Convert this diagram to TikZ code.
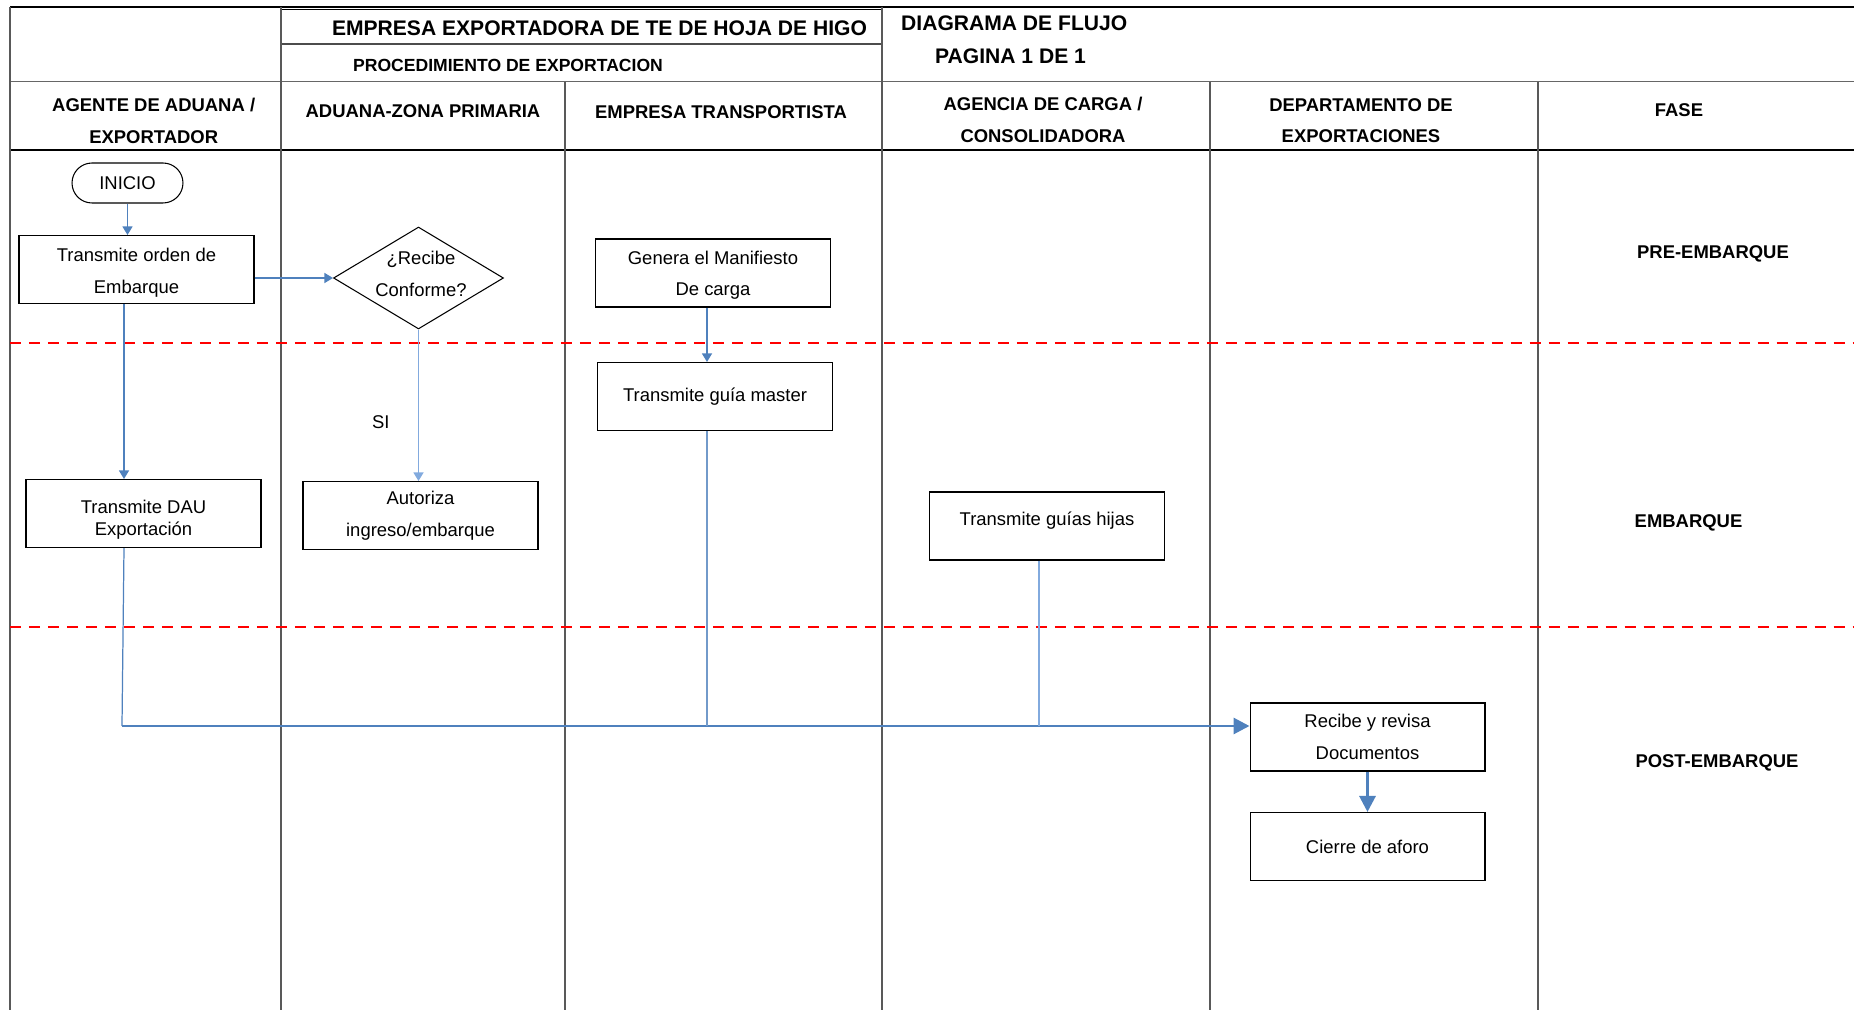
\documentclass[tikz,border=0pt]{standalone}
\usepackage{fontspec}
\setmainfont{Liberation Sans}
\usetikzlibrary{positioning,arrows.meta,shapes.geometric,calc}
\definecolor{azul}{RGB}{79,129,189}
\definecolor{azulclaro}{RGB}{130,170,222}
\tikzstyle{paso} = [draw,rectangle,line width=0.6pt,minimum width=4.7cm,minimum height=1.36cm,align=center,font=\fontsize{10.5}{18}\selectfont]
\tikzstyle{terminal} = [draw,rectangle,rounded corners=0.4cm,line width=0.6pt,minimum width=2.22cm,minimum height=0.8cm,font=\fontsize{10.5}{12}\selectfont]
\tikzstyle{decision} = [draw,diamond,line width=0.6pt,minimum width=3.4cm,minimum height=2.04cm,inner sep=0pt]
\tikzstyle{cabecera} = [font=\bfseries\fontsize{10.5}{18}\selectfont,align=center]
\tikzstyle{titulo} = [font=\bfseries\fontsize{12}{14}\selectfont]
\tikzstyle{flecha} = [azul,line width=0.7pt,-{Triangle[length=0.17cm,width=0.2cm]}]
\tikzstyle{flechagruesa} = [azul,line width=1.7pt,-{Triangle[length=0.32cm,width=0.32cm]}]
\tikzstyle{linea} = [azul,line width=0.7pt]
\tikzstyle{lineaclara} = [azulclaro,line width=0.6pt]
\tikzstyle{fase} = [red,line width=1.5pt,dash pattern=on 0.22cm off 0.16cm]

\begin{document}
\begin{tikzpicture}[x=0.02cm,y=-0.02cm]
\useasboundingbox (0,0) rectangle (1854,1010);

\draw[line width=0.6pt] (10,7) -- (1854,7);
\draw[line width=0.6pt] (281,9.5) -- (882,9.5);
\draw[gray!60!black,line width=0.6pt] (281,44) -- (882,44);
\draw[gray!80!black,line width=1pt] (10,81.6) -- (1854,81.6);
\draw[line width=0.6pt] (10,150) -- (1854,150);
\foreach \x in {10,281,882}
  \draw[gray!70!black,line width=0.6pt] (\x,7) -- (\x,1010);
\foreach \x in {565,1210,1538}
  \draw[gray!70!black,line width=0.6pt] (\x,81.6) -- (\x,1010);
\foreach \y in {343,627}
  \draw[fase] (10,\y) -- (1854,\y);

\node[titulo] (empresa) at (599.5,28) {EMPRESA EXPORTADORA DE TE DE HOJA DE HIGO};
\node[cabecera,font=\bfseries\fontsize{10}{12}\selectfont] (procedimiento) at (508,65) {PROCEDIMIENTO DE EXPORTACION};
\node[titulo,anchor=west] (diagrama) at (895,23) {DIAGRAMA DE FLUJO};
\node[titulo,anchor=west] (pagina) at (929,56) {PAGINA 1 DE 1};

\node[cabecera] (agente) at (153.7,121) {AGENTE DE ADUANA /\\EXPORTADOR};
\node[cabecera] (aduana) at (423,111) {ADUANA-ZONA PRIMARIA};
\node[cabecera] (transportista) at (721,112) {EMPRESA TRANSPORTISTA};
\node[cabecera] (agencia) at (1043,120) {AGENCIA DE CARGA /\\CONSOLIDADORA};
\node[cabecera] (departamento) at (1361,120.5) {DEPARTAMENTO DE\\EXPORTACIONES};
\node[cabecera] (fasecol) at (1679,110) {FASE};

\node[cabecera] (pre) at (1713,254) {PRE-EMBARQUE};
\node[cabecera] (emb) at (1688.5,523) {EMBARQUE};
\node[cabecera] (post) at (1717,763) {POST-EMBARQUE};

\node[terminal] (inicio) at (127.5,183) {INICIO};
\node[paso] (orden) at (136.5,269.5) {\rule{0pt}{11.5pt}Transmite orden de\\Embarque};
\node[decision] (conforme) at (418.5,278) {};
\node[align=center,font=\fontsize{10.5}{18}\selectfont] (pregunta) at (421,274) {¿Recibe\\Conforme?};
\node[paso] (genera) at (713,273) {\rule{0pt}{10pt}Genera el Manifiesto\\De carga};
\node[paso] (master) at (715,396.5) {Transmite guía master};
\node[paso,font=\fontsize{10.5}{12.5}\selectfont] (dau) at (143.5,513.5) {\rule{0pt}{15pt}Transmite DAU\\Exportación};
\node[paso] (autoriza) at (420.5,515.5) {Autoriza\\ingreso/embarque};
\node[paso] (hijas) at (1047,526) {Transmite guías hijas\rule[-8pt]{0pt}{8pt}};
\node[paso] (revisa) at (1367.5,737) {Recibe y revisa\\Documentos};
\node[paso] (cierre) at (1367.5,846.5) {Cierre de aforo};

\coordinate (codo) at (122,726);

\draw[flecha] (inicio.south) -- (inicio.south |- orden.north);
\draw[flecha] (conforme.west -| orden.east) -- (conforme.west);
\draw[flecha] ([xshift=-0.25cm]orden.south) -- ([xshift=-0.25cm]orden.south |- dau.north);
\draw[flecha,azulclaro] (conforme.south) -- (conforme.south |- autoriza.north) node[pos=0.61,left=0.45cm,black,font=\fontsize{10.5}{12}\selectfont] {SI};
\draw[flecha] ([xshift=-0.12cm]genera.south) -- ([xshift=-0.12cm]genera.south |- master.north);
\draw[linea] ([xshift=0.04cm]codo |- dau.south) -- (codo);
\draw[flechagruesa] (codo) -- (codo -| revisa.west);
\draw[lineaclara,azul!80] ([xshift=-0.16cm]master.south) -- ([xshift=-0.16cm]master.south |- codo);
\draw[lineaclara] ([xshift=-0.16cm]hijas.south) -- ([xshift=-0.16cm]hijas.south |- codo);
\draw[flechagruesa] (revisa.south) -- (cierre.north);
\end{tikzpicture}
\end{document}
